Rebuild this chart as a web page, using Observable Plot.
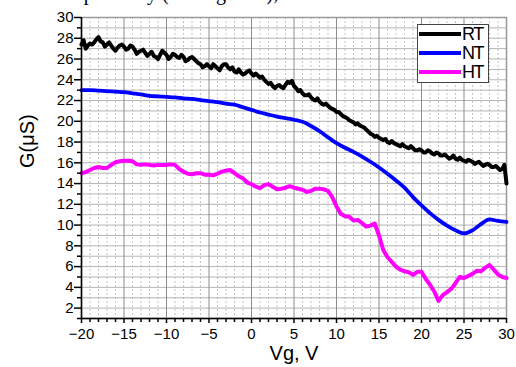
<!DOCTYPE html>
<html><head><meta charset="utf-8">
<script src="https://cdn.jsdelivr.net/npm/d3@7"></script>
<script src="https://cdn.jsdelivr.net/npm/@observablehq/plot@0.6"></script>
<style>
body{margin:0;background:#fff;}
#wrap{position:relative;width:516px;height:367px;overflow:hidden;background:#fff;}
#top{position:absolute;left:76px;top:-17px;font:20px "Liberation Serif";line-height:20px;white-space:nowrap;color:#000;}
#legend{position:absolute;left:417px;top:24px;width:72px;height:59px;border:1px solid #444;background:#fff;box-sizing:border-box;}
.row{position:absolute;left:1px;height:20px;width:70px;}
.sw{position:absolute;left:0;top:8px;width:42px;height:4px;}
.lb{position:absolute;left:43px;top:0;font:18px "Liberation Sans";letter-spacing:-1.5px;line-height:20px;color:#000;}
svg{position:absolute;left:0;top:0;}
</style></head><body>
<div id="wrap"><div id="top">spectively (see Figure 4),</div></div>
<script>
// ---- data ----
const series = ["RT", "NT", "HT"];
const colors = ["#000000", "#0000ff", "#ff00ff"];
const xTicks = [-20, -15, -10, -5, 0, 5, 10, 15, 20, 25, 30];
const yTicks = [2, 4, 6, 8, 10, 12, 14, 16, 18, 20, 22, 24, 26, 28, 30];
const xDomain = [-20, 30];
const yDomain = [1, 30];

const vgRT = [-20,-19.75,-19.5,-19.25,-19,-18.75,-18.5,-18.25,-18,-17.75,-17.5,-17.25,-17,-16.75,-16.5,-16.25,-16,-15.75,-15.5,-15.25,
-15,-14.75,-14.5,-14.25,-14,-13.75,-13.5,-13.25,-13,-12.75,-12.5,-12.25,-12,-11.75,-11.5,-11.25,-11,-10.75,-10.5,-10.25,
-10,-9.75,-9.5,-9.25,-9,-8.75,-8.5,-8.25,-8,-7.75,-7.5,-7.25,-7,-6.75,-6.5,-6.25,-6,-5.75,-5.5,-5.25,
-5,-4.75,-4.5,-4.25,-4,-3.75,-3.5,-3.25,-3,-2.75,-2.5,-2.25,-2,-1.75,-1.5,-1.25,-1,-0.75,-0.5,-0.25,
0,0.25,0.5,0.75,1,1.25,1.5,1.75,2,2.25,2.5,2.75,3,3.25,3.5,3.75,4,4.25,4.5,4.75,
5,5.25,5.5,5.75,6,6.25,6.5,6.75,7,7.25,7.5,7.75,8,8.25,8.5,8.75,9,9.25,9.5,9.75,
10,10.25,10.5,10.75,11,11.25,11.5,11.75,12,12.25,12.5,12.75,13,13.25,13.5,13.75,14,14.25,14.5,14.75,
15,15.25,15.5,15.75,16,16.25,16.5,16.75,17,17.25,17.5,17.75,18,18.25,18.5,18.75,19,19.25,19.5,19.75,
20,20.25,20.5,20.75,21,21.25,21.5,21.75,22,22.25,22.5,22.75,23,23.25,23.5,23.75,24,24.25,24.5,24.75,
25,25.25,25.5,25.75,26,26.25,26.5,26.75,27,27.25,27.5,27.75,28,28.25,28.5,28.75,29,29.25,29.5,29.75,30];

const gRT = [27.4,27.8,27.0,27.3,27.5,27.4,27.6,27.9,28.1,27.7,27.6,27.2,27.4,27.6,27.3,27.0,26.8,27.1,27.3,27.4,
27.2,26.9,27.0,27.3,27.2,26.9,26.5,26.7,26.8,26.9,26.6,26.3,26.5,26.7,26.3,26.2,26.0,26.4,26.8,26.6,
26.4,26.0,26.2,26.5,26.4,26.2,26.1,26.4,26.2,25.8,25.9,26.1,26.2,26.0,25.8,25.6,25.5,25.2,25.3,25.5,
25.3,25.1,25.5,25.3,25.1,24.9,25.3,25.5,25.5,25.2,25.0,25.2,24.8,24.7,25.0,24.7,24.5,24.6,24.8,24.9,
24.6,24.4,24.6,24.4,24.2,24.3,24.0,23.8,23.6,23.7,23.4,23.2,23.4,23.5,23.3,23.2,23.5,23.8,23.7,23.9,
23.4,23.2,22.9,23.0,22.7,22.5,22.5,22.6,22.3,22.1,22.0,22.2,21.9,21.7,21.6,21.7,21.5,21.3,21.2,21.1,
20.9,20.9,20.7,20.5,20.4,20.3,20.1,20.0,19.9,19.7,19.8,19.6,19.5,19.4,19.2,19.0,18.8,18.7,18.5,18.6,
18.4,18.3,18.2,18.3,18.0,17.9,18.1,17.9,17.8,17.7,17.6,17.8,17.6,17.5,17.4,17.6,17.4,17.2,17.2,17.3,
17.2,17.0,17.0,17.2,17.1,16.9,16.8,17.0,16.9,16.7,16.7,16.8,16.6,16.4,16.5,16.7,16.4,16.3,16.5,16.3,
16.2,16.1,16.3,16.2,16.1,15.9,16.0,16.1,15.9,15.7,15.8,15.9,15.8,15.6,15.6,15.7,15.5,15.3,15.4,15.8,14.0];

const vgNT = [-20,-19,-18,-17,-16,-15,-14,-13,-12,-11,-10,-9,-8,-7,-6,-5,-4,-3,-2,-1,
0,1,2,3,4,5,6,7,8,9,10,11,12,13,14,15,16,17,18,19,20,21,22,23,24,25,26,27,28,29,30];
const gNT = [23.0,23.0,22.95,22.9,22.85,22.8,22.7,22.6,22.45,22.4,22.35,22.3,22.2,22.15,22.05,21.95,21.85,21.7,21.6,21.35,
21.1,20.85,20.65,20.45,20.3,20.15,19.95,19.55,19.05,18.45,17.9,17.45,17.05,16.6,16.1,15.55,14.95,14.3,13.6,12.7,
11.9,11.15,10.5,9.95,9.5,9.2,9.5,10.1,10.55,10.4,10.3];

const vgHT = [-20,-19.5,-19,-18.5,-18,-17.5,-17,-16.5,-16,-15.5,-15,-14.5,-14,-13.5,-13,-12.5,-12,-11.5,-11,-10.5,
-10,-9.5,-9,-8.5,-8,-7.5,-7,-6.5,-6,-5.5,-5,-4.5,-4,-3.5,-3,-2.5,-2,-1.5,-1,-0.5,
0,0.5,1,1.5,2,2.5,3,3.5,4,4.5,5,5.5,6,6.5,7,7.5,8,8.5,9,9.5,
10,10.5,11,11.5,12,12.5,13,13.5,14,14.5,15,15.5,16,16.5,17,17.5,18,18.5,19,19.5,
20,20.5,21,21.5,22,22.5,23,23.5,24,24.5,25,25.5,26,26.5,27,27.5,28,28.5,29,29.5,30];
const gHT = [15.0,15.1,15.3,15.5,15.6,15.5,15.5,15.8,16.05,16.15,16.2,16.2,16.15,15.85,15.8,15.85,15.8,15.75,15.8,15.8,
15.8,15.85,15.8,15.4,15.15,14.95,14.9,15.0,15.0,14.85,14.85,14.8,14.95,15.15,15.25,15.3,15.0,14.7,14.5,14.1,
13.95,13.7,13.55,13.85,13.95,13.7,13.45,13.5,13.6,13.75,13.6,13.5,13.4,13.2,13.3,13.5,13.5,13.45,13.3,12.7,
11.8,11.1,10.85,10.8,10.45,10.5,10.2,9.85,9.95,10.15,9.0,7.6,6.9,6.45,6.0,5.7,5.55,5.45,5.2,5.5,
5.5,4.8,4.25,3.6,2.7,3.25,3.55,3.85,4.4,5.0,4.9,5.1,5.3,5.6,5.55,5.9,6.15,5.7,5.25,5.0,4.9];

const xLabel = "Vg, V";
const yLabel = "G(\u03bcS)";

// ---- build ----
const rt = vgRT.map((v, i) => ({x: v, y: gRT[i]}));
const nt = vgNT.map((v, i) => ({x: v, y: gNT[i]}));
const ht = vgHT.map((v, i) => ({x: v, y: gHT[i]}));
const xMinor = d3.range(xDomain[0], xDomain[1] + 1).filter(v => !xTicks.includes(v));
const yMinor = d3.range(yDomain[0], yDomain[1] + 1).filter(v => !yTicks.includes(v));
const yAll = d3.range(yDomain[0], yDomain[1] + 1);

const chart = Plot.plot({
  width: 516, height: 367,
  marginLeft: 81, marginRight: 10, marginTop: 17, marginBottom: 49,
  x: {domain: xDomain},
  y: {domain: yDomain},
  style: {fontFamily: "Liberation Sans, Arial, sans-serif", fontSize: "15px", background: "transparent", overflow: "visible"},
  marks: [
    Plot.ruleX(xMinor, {stroke: "#c4c4c4", strokeWidth: 1, strokeDasharray: "2,2"}),
    Plot.ruleY(yAll, {stroke: "#b4b4b4", strokeWidth: 1}),
    Plot.ruleX(xTicks, {stroke: "#8c8c8c", strokeWidth: 1}),
    Plot.frame({stroke: "#999", strokeWidth: 1.5}),
    Plot.line(ht, {x: "x", y: "y", stroke: colors[2], strokeWidth: 4, strokeLinejoin: "round"}),
    Plot.line(nt, {x: "x", y: "y", stroke: colors[1], strokeWidth: 3.8, curve: "monotone-x"}),
    Plot.line(rt, {x: "x", y: "y", stroke: colors[0], strokeWidth: 4, strokeLinejoin: "round"}),
    Plot.ruleY([yDomain[0]], {stroke: "#000", strokeWidth: 1.5}),
    Plot.ruleX([xDomain[0]], {stroke: "#000", strokeWidth: 1.5}),
    Plot.axisX(xTicks, {tickSize: 5, tickPadding: 5, label: null, stroke: "#000", strokeWidth: 1.5, style: {letterSpacing: "-1px"}}),
    Plot.axisX(xMinor, {tickSize: 4, tickFormat: () => "", label: null, stroke: "#000", strokeWidth: 1.5}),
    Plot.axisY(yTicks, {tickSize: 7, tickPadding: 1, label: null, stroke: "#000", strokeWidth: 1.5, style: {letterSpacing: "-1px"}}),
    Plot.axisY(yMinor, {tickSize: 4, tickFormat: () => "", label: null, stroke: "#000", strokeWidth: 1.5}),
    Plot.text([xLabel], {frameAnchor: "bottom", dy: 35, fontSize: 20, fill: "#000", lineAnchor: "middle"}),
    Plot.text([yLabel], {frameAnchor: "left", dx: -54, rotate: -90, fontSize: 20, fill: "#000"})
  ]
});
const wrap = document.getElementById("wrap");
wrap.appendChild(chart);

// legend
const leg = document.createElement("div");
leg.id = "legend";
series.forEach((s, i) => {
  const r = document.createElement("div");
  r.className = "row";
  r.style.top = (i * 19 - 1) + "px";
  r.innerHTML = `<div class="sw" style="background:${colors[i]}"></div><div class="lb">${s}</div>`;
  leg.appendChild(r);
});
wrap.appendChild(leg);
</script>
</body></html>
